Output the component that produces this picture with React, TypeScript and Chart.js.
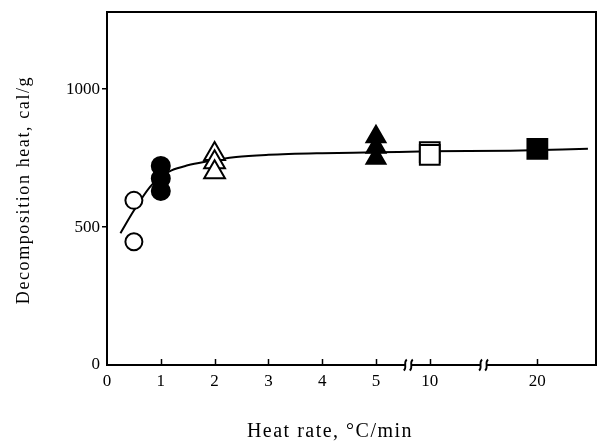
import React, { useEffect, useRef } from 'react';
import { Chart, registerables, LinearScale } from 'chart.js';

// ---- data ----------------------------------------------------------------
const X_TICKS = [0, 1, 2, 3, 4, 5, 10, 20];
const X_BREAKS = [8, 15];
const X_MIN = 0;
const X_MAX = 25.45;

const Y_TICKS = [0, 500, 1000];
const Y_MAX = 1280;

// heat rate (°C/min) -> decomposition heat (cal/g)
const OPEN_CIRCLE_X = [0.5, 0.5];
const OPEN_CIRCLE_Y = [597, 447];
const FILLED_CIRCLE_X = [1, 1, 1];
const FILLED_CIRCLE_Y = [722, 676, 631];
const OPEN_TRIANGLE_X = [2, 2, 2];
const OPEN_TRIANGLE_Y = [765, 735, 699];
const FILLED_TRIANGLE_X = [5, 5, 5];
const FILLED_TRIANGLE_Y = [828, 790, 750];
const OPEN_SQUARE_X = [10, 10];
const OPEN_SQUARE_Y = [772, 762];
const FILLED_SQUARE_X = [20];
const FILLED_SQUARE_Y = [784];

const CURVE_X = [0.25, 0.5, 0.8, 1.0, 1.2, 1.5, 1.8, 2.4, 3, 4, 5, 10, 17.5, 24.7];
const CURVE_Y = [478, 560, 646, 683, 706, 724, 736, 754, 762, 768, 771, 775, 777, 784];

const X_TITLE = 'Heat rate, °C/min';
const Y_TITLE = 'Decomposition heat, cal/g';

// ---- broken heating-rate axis ---------------------------------------------
// 0–5 at full scale, then 5–10 and 10–25 compressed five-fold.
function toAxisUnits(v: number): number {
  if (v <= 5) return v;
  if (v <= 10) return 5 + (v - 5) / 5;
  return 6 + (v - 10) / 5;
}
function fromAxisUnits(u: number): number {
  if (u <= 5) return u;
  if (u <= 6) return 5 + (u - 5) * 5;
  return 10 + (u - 6) * 5;
}

class BrokenLinearScale extends LinearScale {
  static id = 'brokenLinear';
  static defaults = LinearScale.defaults;

  buildTicks() {
    return X_TICKS.map((value) => ({ value }));
  }
  getPixelForValue(value: number) {
    const lo = toAxisUnits(this.min);
    const hi = toAxisUnits(this.max);
    return this.getPixelForDecimal((toAxisUnits(value) - lo) / (hi - lo));
  }
  getValueForPixel(pixel: number) {
    const lo = toAxisUnits(this.min);
    const hi = toAxisUnits(this.max);
    return fromAxisUnits(lo + this.getDecimalForPixel(pixel) * (hi - lo));
  }
}

Chart.register(...registerables, BrokenLinearScale);

const zip = (xs: number[], ys: number[]) => xs.map((x, i) => ({ x, y: ys[i] }));

const SERIF = '"Liberation Serif", "DejaVu Serif", serif';

// frame, inward x ticks and axis-break marks
const framePlugin = {
  id: 'frame',
  afterDatasetsDraw(chart: any) {
    const { ctx, chartArea: a } = chart;
    const x = chart.scales.x;
    ctx.save();
    ctx.strokeStyle = '#000';
    ctx.lineWidth = 2;
    ctx.strokeRect(a.left, a.top, a.right - a.left, a.bottom - a.top);

    ctx.lineWidth = 1.5;
    for (const v of X_TICKS) {
      if (v === X_MIN) continue;
      const px = Math.round(x.getPixelForValue(v)) + 0.5;
      ctx.beginPath();
      ctx.moveTo(px, a.bottom);
      ctx.lineTo(px, a.bottom - 6);
      ctx.stroke();
    }

    for (const b of X_BREAKS) {
      const px = x.getPixelForValue(b);
      ctx.fillStyle = '#fff';
      ctx.fillRect(px - 3, a.bottom - 2, 6, 4);
      ctx.lineWidth = 1.8;
      for (const dx of [-3, 3]) {
        const cx = px + dx;
        ctx.beginPath();
        ctx.moveTo(cx - 1.5, a.bottom + 5.5);
        ctx.bezierCurveTo(cx + 2.5, a.bottom + 2, cx - 2.5, a.bottom - 2, cx + 1.5, a.bottom - 5.5);
        ctx.stroke();
      }
    }
    ctx.restore();
  },
};

// axis titles, drawn with letter spacing
const titlePlugin = {
  id: 'axisTitles',
  afterDraw(chart: any) {
    const { ctx } = chart;
    ctx.save();
    ctx.fillStyle = '#000';
    ctx.textAlign = 'center';
    ctx.textBaseline = 'middle';
    (ctx as any).letterSpacing = '1.5px';
    ctx.font = `20px ${SERIF}`;
    ctx.fillText(X_TITLE, 330, 432);

    (ctx as any).letterSpacing = '1.6px';
    ctx.font = `18px ${SERIF}`;
    ctx.translate(24, 190);
    ctx.rotate(-Math.PI / 2);
    ctx.fillText(Y_TITLE, 0, 0);
    ctx.restore();
  },
};

function marker(data: { x: number; y: number }[], style: string, radius: number, filled: boolean) {
  return {
    type: 'scatter' as const,
    data,
    pointStyle: style,
    pointRadius: radius,
    borderWidth: 2,
    borderColor: '#000',
    backgroundColor: filled ? '#000' : '#fff',
    order: 1,
  };
}

export default function App() {
  const canvasRef = useRef<HTMLCanvasElement | null>(null);

  useEffect(() => {
    if (!canvasRef.current) return;
    const chart = new Chart(canvasRef.current, {
      type: 'scatter',
      data: {
        datasets: [
          marker(zip(OPEN_CIRCLE_X, OPEN_CIRCLE_Y), 'circle', 8.5, false),
          marker(zip(FILLED_CIRCLE_X, FILLED_CIRCLE_Y), 'circle', 9, true),
          marker(zip(OPEN_TRIANGLE_X, OPEN_TRIANGLE_Y), 'triangle', 12, false),
          marker(zip(FILLED_TRIANGLE_X, FILLED_TRIANGLE_Y), 'triangle', 11, true),
          marker(zip(OPEN_SQUARE_X, OPEN_SQUARE_Y), 'rect', 14, false),
          marker(zip(FILLED_SQUARE_X, FILLED_SQUARE_Y), 'rect', 14, true),
          {
            type: 'line' as const,
            data: zip(CURVE_X, CURVE_Y),
            showLine: true,
            pointRadius: 0,
            borderColor: '#000',
            borderWidth: 2,
            cubicInterpolationMode: 'monotone',
            fill: false,
            order: 10,
          } as any,
        ],
      },
      options: {
        animation: false,
        responsive: true,
        maintainAspectRatio: false,
        events: [],
        layout: { autoPadding: false, padding: { left: 0, top: 12, right: 6, bottom: 0 } },
        plugins: { legend: { display: false }, tooltip: { enabled: false } },
        scales: {
          x: {
            type: 'brokenLinear' as any,
            min: X_MIN,
            max: X_MAX,
            grid: { display: false, drawTicks: false },
            border: { display: false },
            ticks: {
              color: '#000',
              padding: 6,
              maxRotation: 0,
              autoSkip: false,
              font: { family: SERIF, size: 17 },
              callback: (v: any) => String(v),
            },
            afterFit: (s: any) => {
              s.height = 81;
              s.paddingLeft = 0;
              s.paddingRight = 0;
            },
          } as any,
          y: {
            min: 0,
            max: Y_MAX,
            afterBuildTicks: (s: any) => {
              s.ticks = Y_TICKS.map((value) => ({ value }));
            },
            grid: {
              drawOnChartArea: false,
              drawTicks: true,
              tickLength: 5,
              lineWidth: 1.5,
              color: (c: any) => (c.tick && c.tick.value === 0 ? 'rgba(0,0,0,0)' : '#000'),
            },
            border: { display: false },
            ticks: {
              color: '#000',
              padding: 2,
              font: { family: SERIF, size: 17 },
              callback: (v: any) => String(v),
            },
            afterFit: (s: any) => {
              s.width = 107;
              s.paddingTop = 0;
              s.paddingBottom = 0;
            },
          },
        },
      },
      plugins: [framePlugin, titlePlugin],
    } as any);
    return () => chart.destroy();
  }, []);

  return (
    <div style={{ position: 'absolute', left: 0, top: 0, width: 602, height: 446 }}>
      <canvas ref={canvasRef} />
    </div>
  );
}
